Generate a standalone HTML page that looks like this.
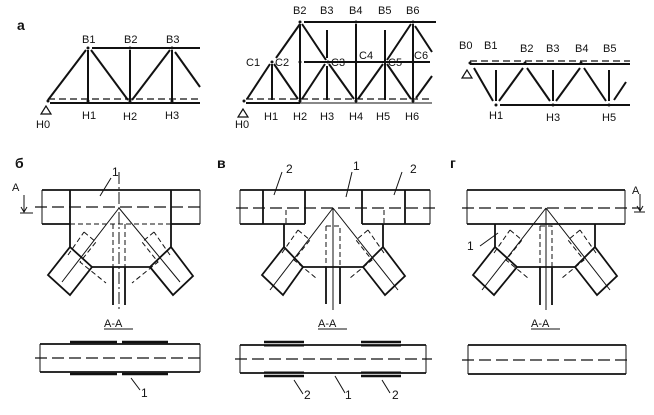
<!DOCTYPE html>
<html><head><meta charset="utf-8"><style>
body{margin:0;background:#fff}
svg{display:block}
text{font-family:"Liberation Sans",sans-serif;fill:#111}
</style></head><body>
<svg width="654" height="415" viewBox="0 0 654 415" xmlns="http://www.w3.org/2000/svg">
<g stroke="#111" fill="none" stroke-linecap="butt">
<!-- Truss 1 -->
<g stroke-width="2">
<line x1="92" y1="48" x2="200" y2="48"/>
<line x1="50" y1="103" x2="200" y2="103"/>
<line x1="48" y1="100" x2="86" y2="50"/>
<line x1="88" y1="50" x2="88" y2="101"/>
<line x1="91" y1="50" x2="128" y2="100"/>
<line x1="130" y1="50" x2="130" y2="101"/>
<line x1="132" y1="100" x2="170" y2="50"/>
<line x1="172" y1="50" x2="172" y2="101"/>
<line x1="175" y1="52" x2="200" y2="87"/>
</g>
<line x1="48" y1="99" x2="200" y2="99" stroke-width="1.2" stroke-dasharray="7,4"/>
<polygon points="46,106 41,114 51,114" stroke-width="1.2"/>
<!-- Truss 2 -->
<g stroke-width="2">
<line x1="304" y1="22" x2="436" y2="22"/>
<line x1="300" y1="24" x2="276" y2="58"/>
<line x1="300" y1="24" x2="300" y2="101"/>
<line x1="302" y1="24" x2="326" y2="60"/>
<line x1="327" y1="30" x2="327" y2="58"/>
<line x1="327" y1="66" x2="327" y2="100"/>
<line x1="356" y1="24" x2="356" y2="101"/>
<line x1="385" y1="30" x2="385" y2="100"/>
<line x1="411" y1="24" x2="387" y2="60"/>
<line x1="413" y1="24" x2="413" y2="101"/>
<line x1="415" y1="26" x2="432" y2="52"/>
<line x1="304" y1="62" x2="430" y2="62"/>
<line x1="270" y1="64" x2="247" y2="99"/>
<line x1="272" y1="64" x2="272" y2="100"/>
<line x1="274" y1="64" x2="298" y2="99"/>
<line x1="325" y1="64" x2="302" y2="99"/>
<line x1="329" y1="64" x2="354" y2="99"/>
<line x1="383" y1="64" x2="358" y2="99"/>
<line x1="387" y1="64" x2="411" y2="99"/>
<line x1="416" y1="98" x2="432" y2="76"/>
<line x1="246" y1="103" x2="300" y2="103"/>
</g>
<line x1="300" y1="103" x2="432" y2="103" stroke-width="1"/>
<line x1="246" y1="99" x2="432" y2="99" stroke-width="1.2" stroke-dasharray="7,4"/>
<polygon points="243,109 238,117 248,117" stroke-width="1.2"/>
<!-- Truss 3 -->
<g stroke-width="2">
<line x1="470" y1="64" x2="630" y2="64"/>
<line x1="474" y1="68" x2="493" y2="101"/>
<line x1="496" y1="70" x2="496" y2="101"/>
<line x1="499" y1="101" x2="523" y2="68"/>
<line x1="527" y1="68" x2="550" y2="101"/>
<line x1="553" y1="70" x2="553" y2="101"/>
<line x1="556" y1="101" x2="580" y2="68"/>
<line x1="584" y1="68" x2="606" y2="101"/>
<line x1="609" y1="70" x2="609" y2="101"/>
<line x1="614" y1="100" x2="626" y2="82"/>
<line x1="500" y1="105" x2="630" y2="105"/>
</g>
<line x1="470" y1="61" x2="630" y2="61" stroke-width="1.2" stroke-dasharray="7,4"/>
<polygon points="467,70 462,78 472,78" stroke-width="1.2"/>

<!-- Joint б -->
<g stroke-width="1.8">
<path d="M42,190 H200 M42,224 H70 M171,224 H200"/>
<path d="M70,190 V247 L92,267 H150 L171,247 V190"/>
<path d="M70,247 L48,275 L70,295 L92,267"/>
<path d="M171,247 L193,276 L173,295 L150,267"/>
<path d="M113,267 V305 M125,267 V305"/>
</g>
<g stroke-width="1">
<path d="M42,190 V224 M200,190 V224"/>
<path d="M70,224 H171" stroke-dasharray="5,3"/>
<path d="M119,208 L62,282 M119,208 L180,282"/>
<path d="M84,232 L96,242 L80,262 L106,283 M68,255 L84,232" stroke-dasharray="5,3"/>
<path d="M154,232 L142,242 L158,262 L132,283 M170,255 L154,232" stroke-dasharray="5,3"/>
<path d="M113,224 V267 M125,224 V267" stroke-dasharray="5,3"/>
<path d="M119,172 V310" stroke-dasharray="12,3,2,3"/>
<path d="M100,196 L111,178"/>
<path d="M24,195 V212 M21,207 L24,212 L27,207 M20,213 H33"/>
</g>
<line x1="35" y1="207" x2="205" y2="207" stroke-width="1.2" stroke-dasharray="12,5"/>

<!-- Joint в -->
<g stroke-width="1.8">
<path d="M240,190 H430 M240,224 H305 M362,224 H430"/>
<path d="M263,190 V224 M305,190 V224 M362,190 V224 M405,190 V224"/>
<path d="M284,224 V247 L303,267 H363 L383,247 V224"/>
<path d="M284,247 L262,275 L283,295 L303,267"/>
<path d="M383,247 L405,276 L385,295 L363,267"/>
<path d="M326,267 V304 M340,267 V304"/>
</g>
<g stroke-width="1">
<path d="M240,190 V224 M430,190 V224"/>
<path d="M333,208 L270,290 M333,208 L398,290 M333,208 V310"/>
<path d="M286,210 V224 M384,210 V224" stroke-dasharray="5,3"/>
<path d="M298,230 L310,240 L294,260 L316,278 M282,253 L298,230" stroke-dasharray="5,3"/>
<path d="M368,230 L356,240 L372,260 L350,278 M384,253 L368,230" stroke-dasharray="5,3"/>
<path d="M326,226 H340 V267 M326,226 V267" stroke-dasharray="5,3"/>
<path d="M274,195 L282,172 M346,197 L352,172 M394,195 L402,172"/>
</g>
<line x1="236" y1="208" x2="436" y2="208" stroke-width="1.2" stroke-dasharray="12,5"/>

<!-- Joint г -->
<g stroke-width="1.8">
<path d="M467,190 H625 M467,224 H625"/>
<path d="M495,224 V247 L517,267 H575 L595,247 V224"/>
<path d="M495,247 L473,275 L494,295 L517,267"/>
<path d="M595,247 L617,276 L597,295 L575,267"/>
<path d="M540,267 V305 M552,267 V305"/>
</g>
<g stroke-width="1">
<path d="M467,190 V224 M625,190 V224"/>
<path d="M546,208 L482,290 M546,208 L610,290 M546,208 V310"/>
<path d="M510,230 L522,240 L506,260 L528,278 M494,253 L510,230" stroke-dasharray="5,3"/>
<path d="M580,230 L568,240 L584,260 L562,278 M596,253 L580,230" stroke-dasharray="5,3"/>
<path d="M540,226 H552 V267 M540,226 V267" stroke-dasharray="5,3"/>
<path d="M480,246 L498,233"/>
<path d="M640,194 V211 M637,206 L640,211 L643,206 M634,212 H645"/>
</g>
<line x1="462" y1="208" x2="640" y2="208" stroke-width="1.2" stroke-dasharray="12,5"/>

<!-- Sections -->
<g stroke-width="1.8">
<path d="M40,344 H200 M40,372 H200"/>
<path d="M70,342 H117 M122,342 H168 M70,374 H117 M122,374 H168" stroke-width="2.5"/>
<path d="M240,345 H426 M240,373 H426"/>
<path d="M264,342 H304 M361,342 H401 M264,376 H304 M361,376 H401" stroke-width="2.5"/>
<path d="M468,345 H626 M468,374 H626"/>
</g>
<g stroke-width="1">
<path d="M40,344 V372 M200,344 V372 M240,345 V373 M426,345 V373 M468,345 V374 M626,345 V374"/>
<path d="M264,346 H304 M361,346 H401 M264,372 H304 M361,372 H401"/>
<path d="M131,378 L140,390 M294,380 L303,394 M335,376 L345,393 M382,380 L390,393"/>
</g>
<g stroke-width="1.2" stroke-dasharray="12,5">
<line x1="35" y1="358" x2="205" y2="358"/>
<line x1="235" y1="359" x2="432" y2="359"/>
<line x1="462" y1="360" x2="632" y2="360"/>
</g>
<path d="M104,329 H133 M318,329 H347 M531,329 H560" stroke-width="1"/>
</g>
<g font-size="11">
<text x="17" y="30" font-size="14" font-weight="bold">а</text>
<text x="82" y="43">B1</text><text x="124" y="43">B2</text><text x="166" y="43">B3</text>
<text x="82" y="119">H1</text><text x="123" y="120">H2</text><text x="165" y="119">H3</text>
<text x="36" y="128">H0</text>
<text x="293" y="14">B2</text><text x="320" y="14">B3</text><text x="349" y="14">B4</text><text x="378" y="14">B5</text><text x="406" y="14">B6</text>
<text x="246" y="66">C1</text><text x="275" y="66">C2</text><text x="331" y="66">C3</text><text x="359" y="59">C4</text><text x="388" y="66">C5</text><text x="414" y="59">C6</text>
<text x="264" y="120">H1</text><text x="293" y="120">H2</text><text x="320" y="120">H3</text><text x="349" y="120">H4</text><text x="376" y="120">H5</text><text x="405" y="120">H6</text>
<text x="235" y="128">H0</text>
<text x="459" y="49">B0</text><text x="484" y="49">B1</text><text x="520" y="52">B2</text><text x="546" y="52">B3</text><text x="575" y="52">B4</text><text x="603" y="52">B5</text>
<text x="489" y="119">H1</text><text x="546" y="121">H3</text><text x="602" y="121">H5</text>
<text x="15" y="168" font-size="14" font-weight="bold">б</text>
<text x="217" y="168" font-size="14" font-weight="bold">в</text>
<text x="450" y="168" font-size="14" font-weight="bold">г</text>
<text x="112" y="176" font-size="12">1</text>
<text x="12" y="191">A</text>
<text x="286" y="173" font-size="12">2</text><text x="353" y="170" font-size="12">1</text><text x="410" y="173" font-size="12">2</text>
<text x="632" y="194">A</text>
<text x="467" y="250" font-size="12">1</text>
<text x="104" y="327">A-A</text><text x="318" y="327">A-A</text><text x="531" y="327">A-A</text>
<text x="141" y="397" font-size="12">1</text>
<text x="304" y="399" font-size="12">2</text><text x="345" y="399" font-size="12">1</text><text x="392" y="399" font-size="12">2</text>
</g>
<g fill="#111">
<circle cx="48" cy="101" r="1.5"/><circle cx="88" cy="101" r="1.5"/><circle cx="130" cy="101" r="1.5"/><circle cx="172" cy="101" r="1.5"/>
<circle cx="88" cy="48" r="1.5"/><circle cx="130" cy="48" r="1.5"/><circle cx="172" cy="48" r="1.5"/>
<circle cx="300" cy="22" r="1.5"/><circle cx="356" cy="22" r="1.5"/><circle cx="413" cy="22" r="1.5"/>
<circle cx="272" cy="62" r="1.5"/><circle cx="300" cy="62" r="1.5"/><circle cx="328" cy="62" r="1.5"/><circle cx="356" cy="62" r="1.5"/><circle cx="385" cy="62" r="1.5"/><circle cx="413" cy="62" r="1.5"/>
<circle cx="244" cy="101" r="1.5"/><circle cx="300" cy="101" r="1.5"/><circle cx="356" cy="101" r="1.5"/><circle cx="413" cy="101" r="1.5"/>
<circle cx="470" cy="63" r="1.5"/><circle cx="525" cy="63" r="1.5"/><circle cx="581" cy="63" r="1.5"/>
<circle cx="496" cy="105" r="1.5"/><circle cx="553" cy="105" r="1.5"/><circle cx="609" cy="105" r="1.5"/>
</g>
</svg>
</body></html>
